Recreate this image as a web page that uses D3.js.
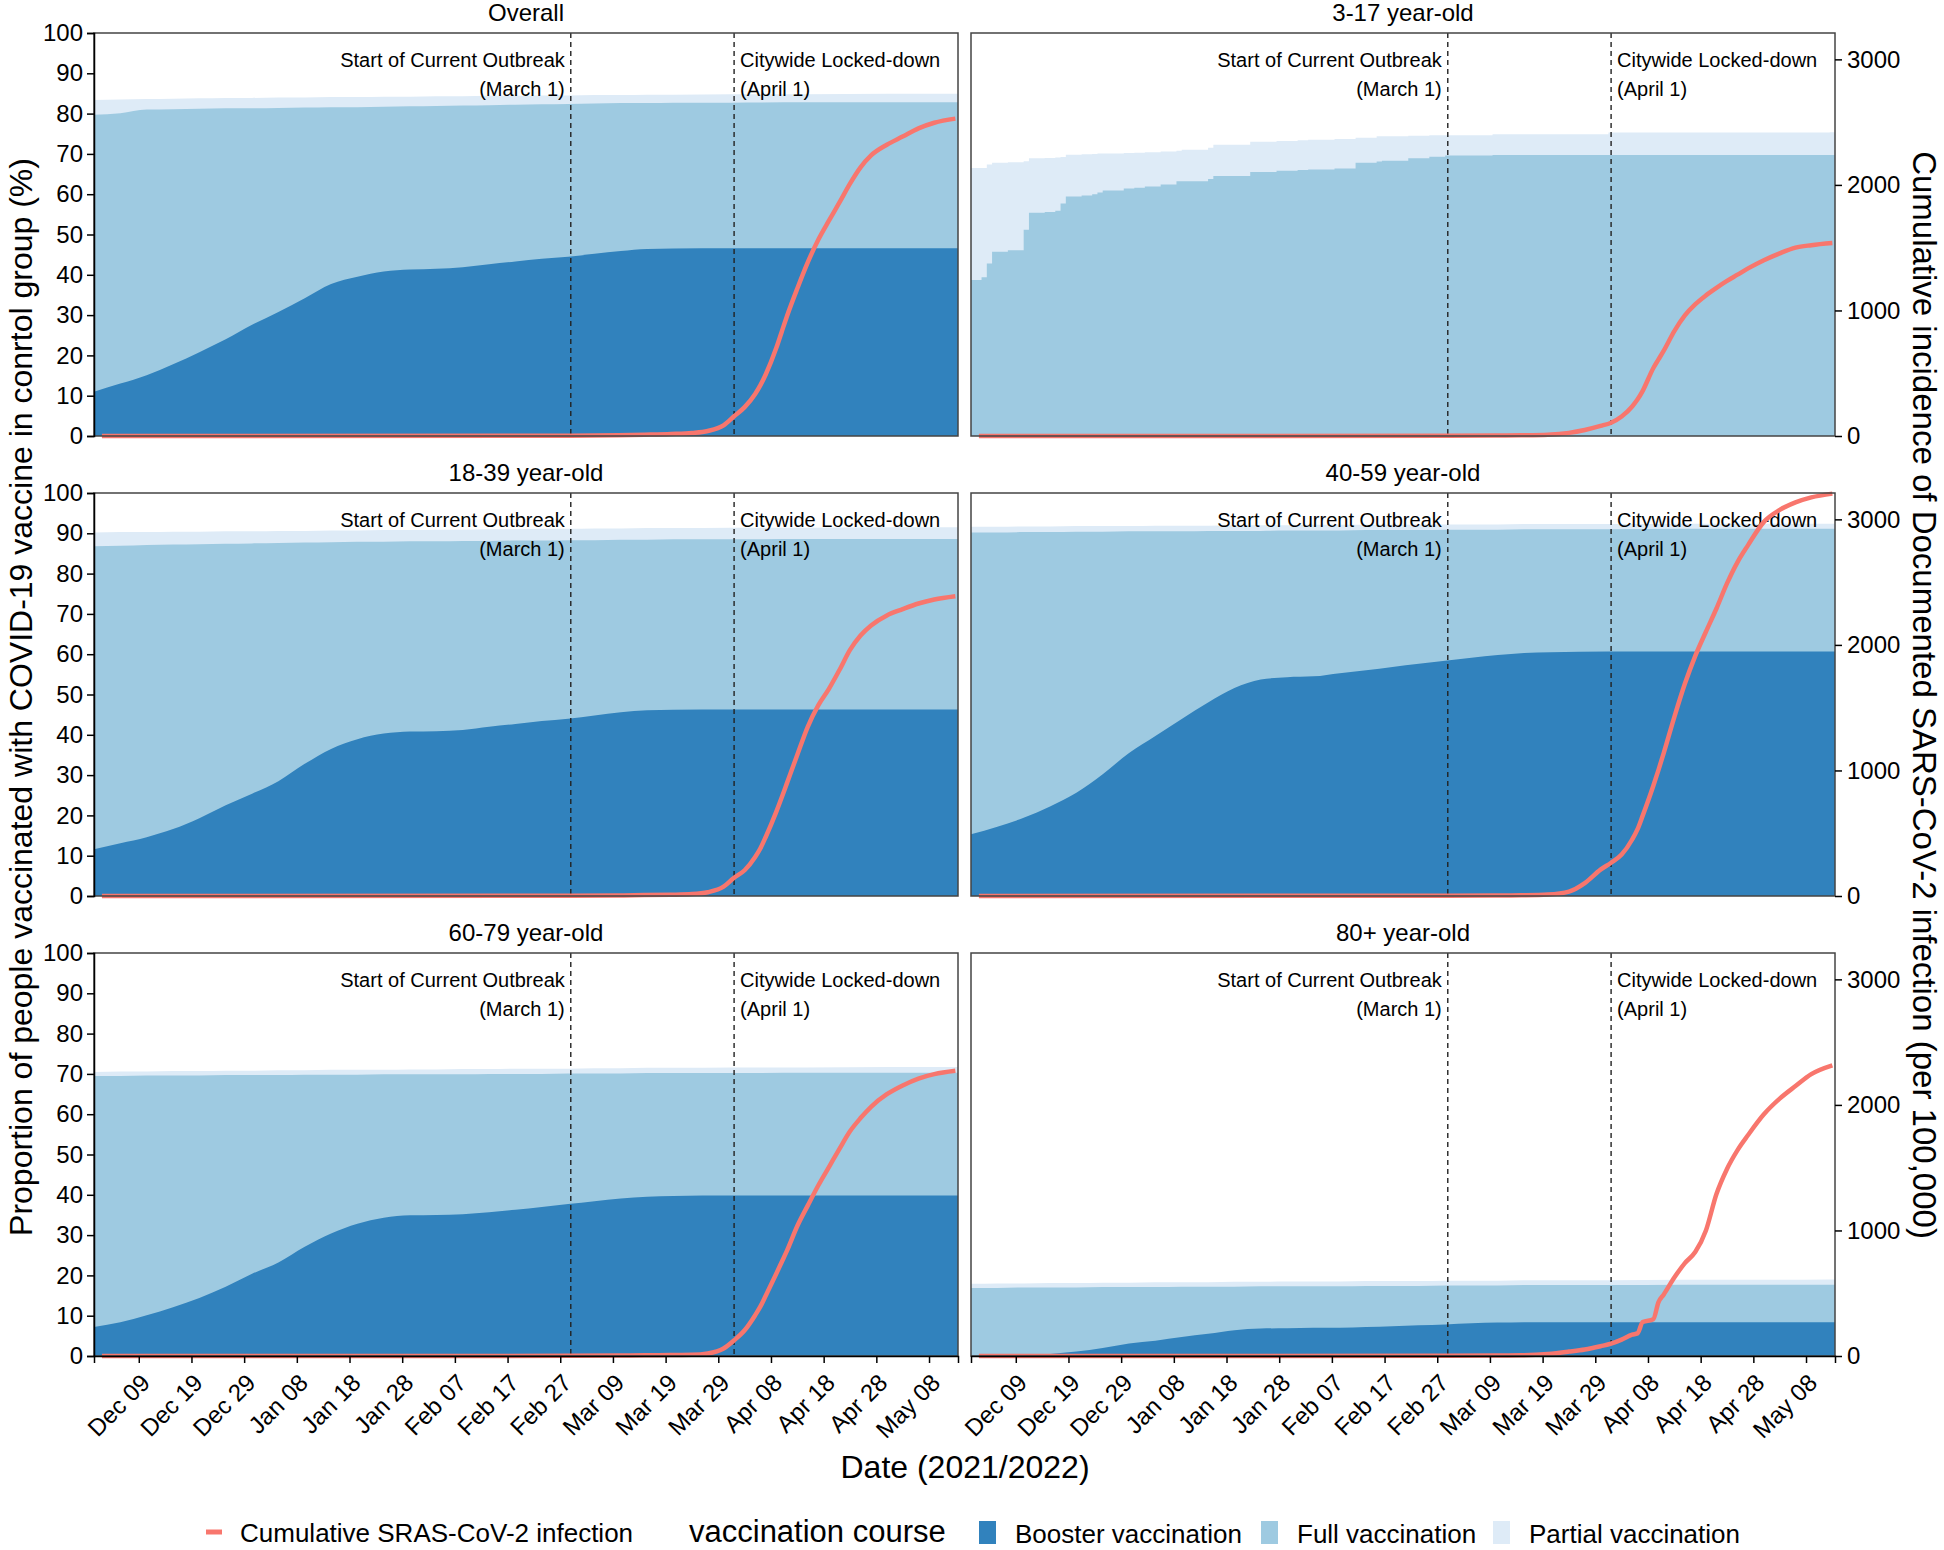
<!DOCTYPE html>
<html><head><meta charset="utf-8">
<script src="https://cdn.jsdelivr.net/npm/d3@7"></script>
<style>
body{margin:0;background:#fff;}
svg text{font-family:"Liberation Sans",Arial,Helvetica,sans-serif;fill:#000;}
</style>
</head><body>
<svg id="chart" width="1944" height="1550"></svg>
<script>
// ---------------- DATA ----------------
const panelTitles = ["Overall","3-17 year-old","18-39 year-old","40-59 year-old","60-79 year-old","80+ year-old"];
const seriesNames = ["Booster vaccination","Full vaccination","Partial vaccination"];
const lineName = "Cumulative SRAS-CoV-2 infection";

// cumulative coverage (%) : booster, at least full, at least partial
const vacDates = ["2021-12-01","2021-12-06","2021-12-11","2021-12-16","2021-12-21","2021-12-26","2021-12-31","2022-01-05","2022-01-10","2022-01-15","2022-01-20","2022-01-25","2022-01-30","2022-02-04","2022-02-09","2022-02-14","2022-02-19","2022-02-24","2022-03-01","2022-03-06","2022-03-11","2022-03-16","2022-03-21","2022-04-01","2022-04-15","2022-05-01","2022-05-13"];

const overallBooster = [11.0,13.0,15.1,17.8,20.8,24.0,27.6,30.8,34.2,37.7,39.5,40.8,41.3,41.5,41.9,42.6,43.3,44.0,44.5,45.2,45.9,46.4,46.5,46.6,46.6,46.6,46.6];
const overallFull    = [79.7,80.1,81.0,81.1,81.2,81.3,81.3,81.4,81.5,81.6,81.6,81.7,81.8,81.9,82.0,82.1,82.2,82.3,82.4,82.5,82.6,82.6,82.7,82.7,82.8,82.8,82.8];
const overallPartial = [83.4,83.5,83.6,83.7,83.8,83.9,83.9,84.0,84.0,84.1,84.1,84.2,84.2,84.3,84.3,84.4,84.4,84.5,84.5,84.6,84.6,84.7,84.7,84.8,84.8,84.9,84.9];

const age1839Booster = [11.6,13.1,14.6,16.6,19.3,22.5,25.4,28.5,32.8,36.5,38.9,40.3,40.8,40.9,41.2,42.0,42.7,43.4,44.0,44.8,45.6,46.1,46.2,46.3,46.3,46.3,46.3];
const age1839Full    = [86.8,86.9,87.1,87.2,87.3,87.4,87.5,87.6,87.7,87.8,87.9,87.9,88.0,88.0,88.1,88.1,88.2,88.2,88.3,88.3,88.4,88.4,88.5,88.5,88.6,88.6,88.6];
const age1839Partial = [90.2,90.3,90.3,90.4,90.4,90.5,90.5,90.6,90.6,90.7,90.7,90.8,90.8,90.9,90.9,91.0,91.0,91.1,91.1,91.2,91.2,91.3,91.3,91.4,91.4,91.5,91.5];

const age4059Booster = [15.3,17.2,19.4,22.2,25.6,30.2,35.5,39.7,43.9,48.0,51.6,53.7,54.3,54.5,55.3,56.0,56.8,57.6,58.4,59.1,59.8,60.3,60.5,60.7,60.7,60.7,60.7];
const age4059Full    = [90.2,90.2,90.3,90.3,90.4,90.4,90.5,90.5,90.5,90.6,90.6,90.6,90.7,90.7,90.7,90.8,90.8,90.8,90.9,90.9,90.9,91.0,91.0,91.0,91.1,91.1,91.1];
const age4059Partial = [91.6,91.6,91.7,91.7,91.8,91.8,91.8,91.9,91.9,91.9,92.0,92.0,92.0,92.1,92.1,92.1,92.1,92.2,92.2,92.2,92.2,92.3,92.3,92.3,92.4,92.4,92.4];

const age6079Booster = [7.2,8.4,10.1,12.1,14.4,17.2,20.4,23.2,27.1,30.4,32.8,34.3,34.9,35.0,35.2,35.7,36.3,37.0,37.7,38.4,39.1,39.5,39.7,39.8,39.8,39.8,39.8];
const age6079Full    = [69.5,69.5,69.6,69.6,69.6,69.7,69.7,69.7,69.8,69.8,69.8,69.9,69.9,69.9,69.9,70.0,70.0,70.0,70.1,70.1,70.1,70.2,70.2,70.2,70.3,70.3,70.3];
const age6079Partial = [70.5,70.6,70.6,70.7,70.7,70.8,70.8,70.9,70.9,71.0,71.0,71.0,71.1,71.1,71.2,71.2,71.3,71.3,71.3,71.4,71.4,71.5,71.5,71.6,71.6,71.7,71.7];

const age80Booster = [0.0,0.0,0.1,0.5,1.1,2.0,3.1,3.8,4.7,5.5,6.4,6.8,6.9,7.0,7.0,7.2,7.4,7.6,7.8,8.1,8.3,8.4,8.4,8.4,8.4,8.4,8.4];
const age80Full    = [16.9,16.9,17.0,17.0,17.0,17.1,17.1,17.1,17.2,17.2,17.2,17.3,17.3,17.3,17.3,17.4,17.4,17.4,17.5,17.5,17.5,17.6,17.6,17.6,17.7,17.7,17.7];
const age80Partial = [17.9,18.0,18.0,18.1,18.1,18.2,18.2,18.3,18.3,18.3,18.4,18.4,18.5,18.5,18.5,18.6,18.6,18.6,18.7,18.7,18.7,18.8,18.8,18.8,18.9,18.9,19.0];

// 3-17 year-old: stepwise daily series (value holds until next date)
const vacDates317 = ["2021-12-01","2021-12-03","2021-12-04","2021-12-05","2021-12-08","2021-12-11","2021-12-12","2021-12-15","2021-12-17","2021-12-18","2021-12-19","2021-12-22","2021-12-24","2021-12-25","2021-12-26","2021-12-30","2022-01-01","2022-01-03","2022-01-06","2022-01-09","2022-01-10","2022-01-15","2022-01-16","2022-01-23","2022-01-28","2022-02-01","2022-02-03","2022-02-08","2022-02-12","2022-02-16","2022-02-17","2022-02-22","2022-02-26","2022-03-01","2022-03-10","2022-04-01","2022-05-13"];
const age317Booster = [0,0,0,0,0,0,0,0,0,0,0,0,0,0,0,0,0,0,0,0,0,0,0,0,0,0,0,0,0,0,0,0,0,0,0,0,0];
const age317Full    = [38.7,39.4,42.8,45.7,46.1,51.2,55.4,55.6,55.9,57.7,59.4,59.7,60.0,60.4,60.9,61.4,61.6,61.9,62.4,63.2,63.2,63.8,64.5,65.5,65.8,66.0,66.1,66.4,67.8,68.1,68.3,68.9,69.3,69.6,69.7,69.7,69.7];
const age317Partial = [66.5,66.5,67.4,67.8,67.9,68.2,68.9,69.0,69.1,69.2,69.8,69.9,70.0,70.1,70.1,70.2,70.3,70.4,70.6,70.8,71.0,71.5,72.3,73.0,73.2,73.4,73.5,73.7,74.0,74.4,74.4,74.5,74.6,74.6,74.9,75.3,75.4];

// cumulative documented infection per 100,000
const lineDates = ["2021-12-02","2022-03-01","2022-03-10","2022-03-15","2022-03-20","2022-03-24","2022-03-27","2022-03-30","2022-04-01","2022-04-03","2022-04-05","2022-04-06","2022-04-07","2022-04-09","2022-04-10","2022-04-11","2022-04-13","2022-04-15","2022-04-17","2022-04-19","2022-04-21","2022-04-23","2022-04-25","2022-04-27","2022-04-30","2022-05-03","2022-05-06","2022-05-09","2022-05-13"];
const overallInfection = [0,2,5,10,16,24,40,85,157,230,335,405,490,700,825,950,1175,1385,1565,1715,1860,2010,2140,2235,2320,2385,2450,2495,2528];
const age317Infection  = [0,1,3,5,10,25,48,80,106,155,235,290,360,540,610,680,835,960,1050,1120,1180,1235,1285,1335,1400,1455,1500,1520,1537];
const age1839Infection = [0,2,4,7,10,15,30,75,146,205,310,380,470,670,780,895,1125,1350,1520,1650,1800,1960,2075,2155,2235,2285,2330,2362,2388];
const age4059Infection = [0,2,3,5,11,35,103,210,265,330,450,530,640,876,1005,1140,1425,1690,1915,2105,2290,2490,2660,2795,2980,3075,3135,3175,3205];
const age6079Infection = [0,1,3,5,7,9,20,60,125,205,325,395,480,655,745,835,1035,1200,1360,1505,1650,1790,1895,1985,2085,2155,2210,2245,2272];
const age80Infection   = [0,1,3,5,16,35,52,78,98,130,170,180,270,292,429,490,625,740,830,1000,1290,1490,1640,1760,1925,2050,2150,2245,2315];

const eventDates = ["2022-03-01","2022-04-01"];
const eventLabels = [["Start of Current Outbreak","(March 1)"],["Citywide Locked-down","(April 1)"]];

const xTickDates = ["2021-12-09","2021-12-19","2021-12-29","2022-01-08","2022-01-18","2022-01-28","2022-02-07","2022-02-17","2022-02-27","2022-03-09","2022-03-19","2022-03-29","2022-04-08","2022-04-18","2022-04-28","2022-05-08"];
const pctTicks = [0,10,20,30,40,50,60,70,80,90,100];
const incTicks = [0,1000,2000,3000];
const incMax = 3210;

// ---------------- LAYOUT ----------------
const parse = d3.timeParse("%Y-%m-%d");
const W = 864, H = 403;
const colX = [94, 971], rowY = [33, 493, 953];
const cBooster = "#3182bd", cFull = "#9ecae1", cPartial = "#deebf7", cLine = "#f8766d";

const x = d3.scaleTime().domain([new Date(2021,10,30,12), new Date(2022,4,13,12)]).range([0, W]);
const yPct = d3.scaleLinear().domain([0,100]).range([H,0]);
const yInc = d3.scaleLinear().domain([0,incMax]).range([H,0]);

const panels = [
  {title:panelTitles[0], col:0,row:0, dates:vacDates, b:overallBooster, f:overallFull, p:overallPartial, inf:overallInfection, step:false},
  {title:panelTitles[1], col:1,row:0, dates:vacDates317, b:age317Booster, f:age317Full, p:age317Partial, inf:age317Infection, step:true},
  {title:panelTitles[2], col:0,row:1, dates:vacDates, b:age1839Booster, f:age1839Full, p:age1839Partial, inf:age1839Infection, step:false},
  {title:panelTitles[3], col:1,row:1, dates:vacDates, b:age4059Booster, f:age4059Full, p:age4059Partial, inf:age4059Infection, step:false},
  {title:panelTitles[4], col:0,row:2, dates:vacDates, b:age6079Booster, f:age6079Full, p:age6079Partial, inf:age6079Infection, step:false},
  {title:panelTitles[5], col:1,row:2, dates:vacDates, b:age80Booster, f:age80Full, p:age80Partial, inf:age80Infection, step:false}
];

const svg = d3.select("#chart");
svg.append("rect").attr("width",1944).attr("height",1550).attr("fill","#fff");

panels.forEach(pn => {
  const g = svg.append("g").attr("transform",`translate(${colX[pn.col]},${rowY[pn.row]})`);
  const pts = pn.dates.map((ds,i) => ({x: x(d3.timeHour.offset(parse(ds), -12)), b: pn.b[i], f: pn.f[i], p: pn.p[i]}));
  pts.push(Object.assign({}, pts[pts.length-1], {x: x.range()[1]}));
  const curve = pn.step ? d3.curveStepAfter : d3.curveMonotoneX;
  const layers = [["p", cPartial],["f", cFull],["b", cBooster]];
  layers.forEach(([k,c]) => {
    g.append("path")
      .attr("d", d3.area().x(d=>d.x).y0(yPct(0)).y1(d=>yPct(d[k])).curve(curve)(pts))
      .attr("fill", c);
  });

  // event lines & labels
  eventDates.forEach((ds,i) => {
    const ex = x(parse(ds));
    g.append("line").attr("x1",ex).attr("x2",ex).attr("y1",0).attr("y2",H)
      .attr("stroke","#222").attr("stroke-width",1.4).attr("stroke-dasharray","5,4");
    const anchor = i===0 ? "end" : "start";
    const tx = i===0 ? ex-6 : ex+6;
    eventLabels[i].forEach((t,j) => {
      g.append("text").attr("x",tx).attr("y", 34 + j*29).attr("text-anchor",anchor)
        .style("font-size","20px").text(t);
    });
  });

  // infection line
  const lpts = lineDates.map((ds,i)=>({d:parse(ds), v:pn.inf[i]}));
  g.append("path")
    .attr("d", d3.line().x(d=>x(d.d)).y(d=>yInc(d.v)).curve(d3.curveMonotoneX)(lpts))
    .attr("fill","none").attr("stroke",cLine).attr("stroke-width",4.5).attr("stroke-linejoin","round");

  // border
  g.append("rect").attr("width",W).attr("height",H).attr("fill","none")
    .attr("stroke","#444").attr("stroke-width",1.5);

  // title
  g.append("text").attr("x",W/2).attr("y",-12).attr("text-anchor","middle")
    .style("font-size","24px").text(pn.title);

  // y axes
  if (pn.col===0) {
    const ax = g.append("g").call(d3.axisLeft(yPct).tickValues(pctTicks).tickSize(7).tickPadding(4));
    ax.select(".domain").attr("stroke","#000").attr("stroke-width",1.5);
    ax.selectAll(".tick line").attr("stroke","#000").attr("stroke-width",1.5);
    ax.selectAll("text").style("font-size","24px").attr("fill","#000");
  } else {
    const ax = g.append("g").attr("transform",`translate(${W},0)`)
      .call(d3.axisRight(yInc).tickValues(incTicks).tickSize(7).tickPadding(5).tickFormat(d3.format("d")));
    ax.select(".domain").remove();
    ax.selectAll(".tick line").attr("stroke","#000").attr("stroke-width",1.5);
    ax.selectAll("text").style("font-size","24px").attr("fill","#000");
  }
  // x axis (bottom row only)
  if (pn.row===2) {
    const ax = g.append("g").attr("transform",`translate(0,${H})`)
      .call(d3.axisBottom(x).tickValues(xTickDates.map(parse)).tickSize(7).tickFormat(d3.timeFormat("%b %d")));
    ax.select(".domain").attr("stroke","#000").attr("stroke-width",1.5);
    ax.selectAll(".tick line").attr("stroke","#000").attr("stroke-width",1.5);
    ax.selectAll("text").style("font-size","24px").attr("fill","#000")
      .attr("x",0).attr("y",0).attr("dy","0.72em")
      .attr("transform","translate(0,16) rotate(-45)").style("text-anchor","end");
  }
});

// axis titles
svg.append("text").attr("transform","translate(32,697) rotate(-90)").attr("text-anchor","middle")
  .style("font-size","32px").text("Proportion of people vaccinated with COVID-19 vaccine in conrtol group (%)");
svg.append("text").attr("transform","translate(1913,695) rotate(90)").attr("text-anchor","middle")
  .style("font-size","33px").text("Cumulative incidence of Documented SARS-CoV-2 infection (per 100,000)");
svg.append("text").attr("x",965).attr("y",1478).attr("text-anchor","middle")
  .style("font-size","32px").text("Date (2021/2022)");

// legend
const lg = svg.append("g");
lg.append("line").attr("x1",206).attr("x2",222).attr("y1",1532).attr("y2",1532)
  .attr("stroke",cLine).attr("stroke-width",5);
lg.append("text").attr("x",240).attr("y",1542).style("font-size","26px").text(lineName);
lg.append("text").attr("x",689).attr("y",1542).style("font-size","31px").text("vaccination course");
const keyX = [979, 1261, 1493];
[cBooster, cFull, cPartial].forEach((c,i) => {
  lg.append("rect").attr("x",keyX[i]).attr("y",1521).attr("width",17).attr("height",23).attr("fill",c);
  lg.append("text").attr("x",keyX[i]+36).attr("y",1543).style("font-size","26px").text(seriesNames[i]);
});
</script>
</body></html>
